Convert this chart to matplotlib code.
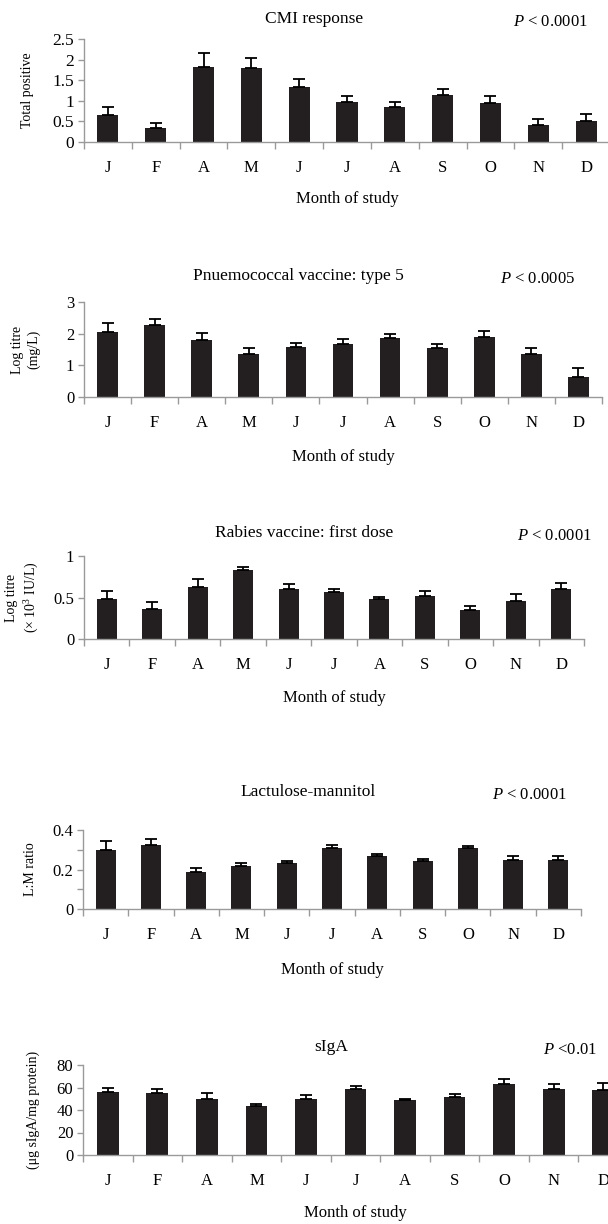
import numpy as np
import matplotlib.pyplot as plt
from matplotlib.ticker import FuncFormatter

plt.rcParams['font.family'] = ['Liberation Serif', 'DejaVu Serif']
plt.rcParams['mathtext.fontset'] = 'custom'
plt.rcParams['mathtext.rm'] = 'Liberation Serif'
plt.rcParams['mathtext.it'] = 'Liberation Serif:italic'

months = ['J', 'F', 'A', 'M', 'J', 'J', 'A', 'S', 'O', 'N', 'D']

# CMI response (total positive)
cmi_mean = [0.65, 0.33, 1.81, 1.79, 1.33, 0.96, 0.84, 1.15, 0.95, 0.41, 0.52]
cmi_sem = [0.20, 0.14, 0.36, 0.24, 0.20, 0.15, 0.13, 0.14, 0.17, 0.15, 0.15]

# Pneumococcal vaccine type 5 (log titre mg/L)
pneu_mean = [2.05, 2.27, 1.79, 1.37, 1.59, 1.68, 1.86, 1.55, 1.91, 1.35, 0.62]
pneu_sem = [0.28, 0.20, 0.24, 0.18, 0.13, 0.14, 0.12, 0.13, 0.17, 0.20, 0.29]

# Rabies vaccine first dose (log titre x10^3 IU/L)
rab_mean = [0.486, 0.365, 0.627, 0.835, 0.606, 0.562, 0.478, 0.522, 0.345, 0.454, 0.598]
rab_sem = [0.088, 0.081, 0.100, 0.035, 0.054, 0.044, 0.032, 0.052, 0.053, 0.092, 0.077]

# Lactulose-mannitol ratio
lm_mean = [0.300, 0.323, 0.189, 0.220, 0.233, 0.308, 0.269, 0.242, 0.308, 0.247, 0.247]
lm_sem = [0.045, 0.033, 0.019, 0.011, 0.010, 0.017, 0.012, 0.013, 0.012, 0.022, 0.022]

# sIgA (ug sIgA / mg protein)
siga_mean = [56.0, 54.8, 50.1, 43.3, 50.1, 58.8, 48.7, 51.9, 62.7, 58.8, 57.6]
siga_sem = [4.0, 3.8, 5.1, 2.1, 3.6, 2.4, 1.4, 2.1, 5.3, 3.9, 6.0]

titles = ['CMI response', 'Pnuemococcal vaccine: type 5', 'Rabies vaccine: first dose',
          'Lactulose-mannitol', 'sIgA']
pvalues = [' < 0.0001', ' < 0.0005', ' < 0.0001', ' < 0.0001', ' <0.01']
ylabels = ['Total positive', 'Log titre\n(mg/L)', 'Log titre\n(× 10$^3$ IU/L)',
           'L:M ratio', '(μg sIgA/mg protein)']
yticks = [[0, 0.5, 1, 1.5, 2, 2.5], [0, 1, 2, 3], [0, 0.5, 1],
          [0, 0.1, 0.2, 0.3, 0.4], [0, 20, 40, 60, 80]]

BAR = '#231f20'
GRAY = '#9a9a9a'
W, H = 608, 1224

fig = plt.figure(figsize=(W / 100, H / 100), dpi=100)


def px_axes(left, right, top, bottom):
    return fig.add_axes([left / W, 1 - bottom / H, (right - left) / W, (bottom - top) / H])


def fig_text(x, y, s, **kw):
    return fig.text(x / W, 1 - y / H, s, **kw)


# pixel layout of each panel: axes box, title y/x, P x, y-label x, "Month of study" y
layout = [
    dict(box=(84, 610, 39, 142), ty=19, tx=314, px=513, ylx=27, my=199, fs=12.5),
    dict(box=(84, 602, 302, 397), ty=276, tx=298, px=500, ylx=26, my=457, fs=12),
    dict(box=(84, 584, 556, 639), ty=533, tx=304, px=517, ylx=23, my=698, fs=12),
    dict(box=(83, 581, 830, 909), ty=792, tx=308, px=492, ylx=30, my=970, fs=12),
    dict(box=(83, 628, 1065, 1155), ty=1047, tx=331, px=543, ylx=33, my=1213, fs=12),
]

means = [cmi_mean, pneu_mean, rab_mean, lm_mean, siga_mean]
sems = [cmi_sem, pneu_sem, rab_sem, lm_sem, siga_sem]

for i in range(5):
    lay = layout[i]
    l, r, t, b = lay['box']
    ax = px_axes(l, r, t, b)
    x = np.arange(len(months)) + 0.5
    ax.bar(x, means[i], width=0.44, color=BAR, zorder=2)
    ax.errorbar(x, means[i], yerr=[np.zeros(len(months)), sems[i]], fmt='none',
                ecolor='black', elinewidth=1.3, capsize=4, capthick=1.3, zorder=3)

    ax.set_xlim(0, len(months))
    ax.set_ylim(0, yticks[i][-1])
    ax.set_xticks(x)
    ax.set_xticklabels(months)
    ax.set_xticks(np.arange(len(months) + 1), minor=True)
    ax.tick_params(axis='x', which='major', length=0, pad=13, labelsize=12)
    ax.tick_params(axis='x', which='minor', length=5, color=GRAY, width=1)

    ax.set_yticks(yticks[i])
    if i == 3:
        # L:M panel only labels every other tick
        ax.set_yticklabels(['%g' % v if k % 2 == 0 else '' for k, v in enumerate(yticks[i])])
    else:
        ax.yaxis.set_major_formatter(FuncFormatter(lambda v, p: '%g' % v))
    ax.tick_params(axis='y', length=4, color=GRAY, width=1, labelsize=lay['fs'], pad=3)

    for side in ['top', 'right']:
        ax.spines[side].set_visible(False)
    for side in ['left', 'bottom']:
        ax.spines[side].set_color(GRAY)
        ax.spines[side].set_linewidth(1)

    fig_text(lay['tx'], lay['ty'], titles[i], ha='center', va='center', fontsize=12.5)
    fig_text(lay['px'], lay['ty'] + 3, '$P$' + pvalues[i], ha='left', va='center', fontsize=12)
    fig_text(lay['ylx'], (t + b) / 2, ylabels[i], ha='center', va='center', rotation=90,
             fontsize=10, linespacing=1.3)
    fig_text((l + r) / 2, lay['my'], 'Month of study', ha='center', va='center', fontsize=12)

fig.savefig('out.png', dpi=100)
